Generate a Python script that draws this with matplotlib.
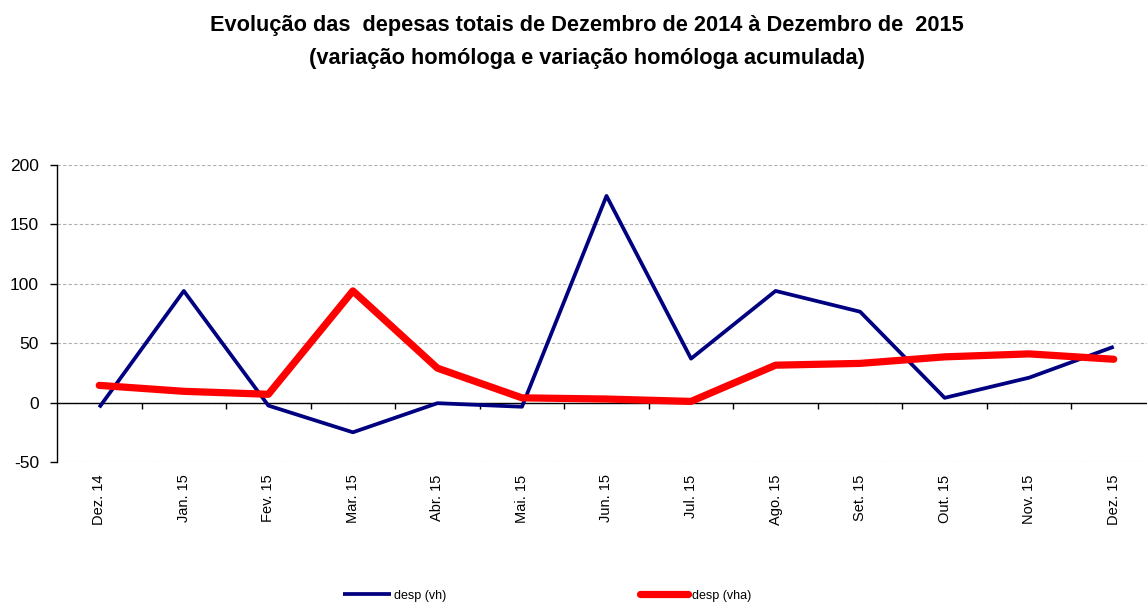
import matplotlib.pyplot as plt
from matplotlib import font_manager

names = {f.name for f in font_manager.fontManager.ttflist}
narrow = "Liberation Sans Narrow" if "Liberation Sans Narrow" in names else "Liberation Sans"
plt.rcParams["font.family"] = ["Liberation Sans", "DejaVu Sans"]
plt.rcParams["axes.unicode_minus"] = False

# categorias (meses)
meses = ["Dez. 14", "Jan. 15", "Fev. 15", "Mar. 15", "Abr. 15", "Mai. 15", "Jun. 15",
         "Jul. 15", "Ago. 15", "Set. 15", "Out. 15", "Nov. 15", "Dez. 15"]
# variação homóloga
desp_vh = [-4, 94, -2.5, -25, -0.5, -3.5, 174, 37, 94, 76.5, 4, 21, 47]
# variação homóloga acumulada
desp_vha = [14.5, 9.5, 7, 94, 29, 4, 3, 1, 31.5, 33, 38.5, 41, 36.5]
yticks = [-50, 0, 50, 100, 150, 200]

fig = plt.figure(figsize=(11.47, 6.03), dpi=100)
ax = fig.add_axes([57 / 1147, 1 - 462 / 603, (1156 - 57) / 1147, (462 - 165) / 603])

x = list(range(len(meses)))
ax.plot(x, desp_vh, color="#000080", linewidth=2.7, solid_capstyle="butt", label="desp (vh)", zorder=3)
ax.plot(x, desp_vha, color="#ff0000", linewidth=5.2, solid_capstyle="round", label="desp (vha)", zorder=4)

ax.set_xlim(-0.5, len(meses) - 0.5)
ax.set_ylim(-50, 200)
ax.set_yticks(yticks)
ax.set_xticks(x)
ax.set_xticklabels(meses, rotation=90, fontsize=10.5)
ax.tick_params(axis="x", length=0, pad=9)
ax.tick_params(axis="y", length=5, width=1, labelsize=12.5, pad=8, color="black")

ax.grid(axis="y", linestyle=(0, (3, 2)), color="#b0b0b0", linewidth=0.8)
ax.set_axisbelow(True)
for s in ["top", "right", "bottom"]:
    ax.spines[s].set_visible(False)
ax.spines["left"].set_linewidth(1.0)

# eixo das categorias em zero, com marcas entre categorias
ax.axhline(0, color="black", linewidth=1.0, zorder=2)
ax.vlines([i + 0.5 for i in x[:-1]], -5, 0, color="black", linewidth=1.0, zorder=2)

fig.text(0.512, 0.958, "Evolução das  depesas totais de Dezembro de 2014 à Dezembro de  2015",
         ha="center", va="center", fontsize=15.7, fontweight="bold", family=[narrow, "DejaVu Sans"])
fig.text(0.512, 0.903, "(variação homóloga e variação homóloga acumulada)",
         ha="center", va="center", fontsize=15.7, fontweight="bold", family=[narrow, "DejaVu Sans"])

fig.legend(loc="center", bbox_to_anchor=(0.477, 0.012), ncol=2, frameon=False, fontsize=9,
           handlelength=3.8, handletextpad=0.3, columnspacing=15.5)

fig.savefig("out.png", dpi=100)
